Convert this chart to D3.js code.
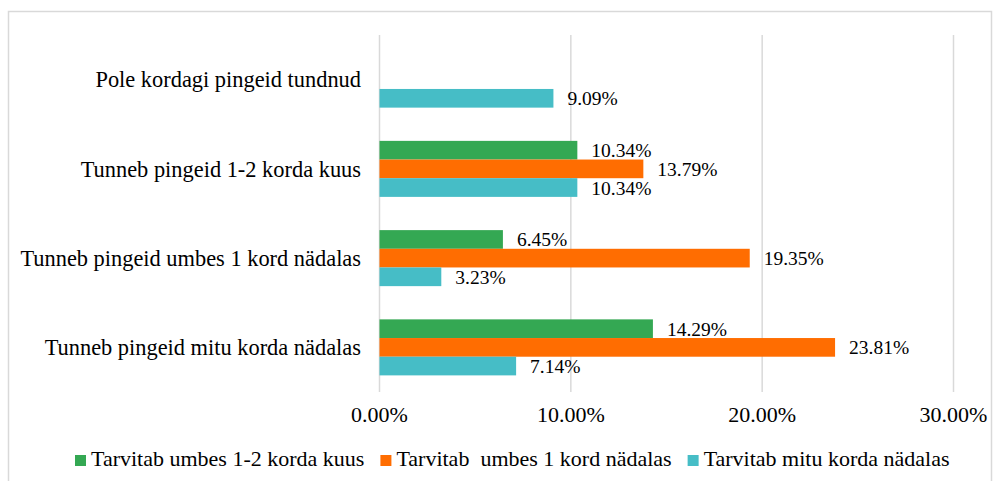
<!DOCTYPE html>
<html>
<head>
<meta charset="utf-8">
<script src="https://cdn.jsdelivr.net/npm/d3@7"></script>
<style>
  body { margin: 0; background: #fff; }
  text { font-family: "Liberation Serif", "Times New Roman", serif; fill: #000; }
</style>
</head>
<body>
<svg id="chart" width="1000" height="481"></svg>
<script>
// data
const categories = [
    "Pole kordagi pingeid tundnud",
    "Tunneb pingeid 1-2 korda kuus",
    "Tunneb pingeid umbes 1 kord nädalas",
    "Tunneb pingeid mitu korda nädalas"
];
const seriesNames = [
    "Tarvitab umbes 1-2 korda kuus",
    "Tarvitab  umbes 1 kord nädalas",
    "Tarvitab mitu korda nädalas"
];
const kuus = [null, 10.34, 6.45, 14.29];
const nadalas = [null, 13.79, 19.35, 23.81];
const mitu = [9.09, 10.34, 3.23, 7.14];
const ticks = [0, 10, 20, 30];
const colors = ["#34a853", "#ff6d01", "#46bdc6"];

const values = [kuus, nadalas, mitu];

let svg = d3.select("#chart");

// outer frame
svg.append("rect")
    .attr("x", 8.5).attr("y", 11.5)
    .attr("width", 983).attr("height", 480)
    .attr("fill", "none")
    .attr("stroke", "#d9d9d9")
    .attr("stroke-width", 1.5);

let x = d3.scaleLinear()
    .domain([0, 30])
    .range([379.5, 953.5]);

let y = d3.scaleBand()
    .domain(categories)
    .range([35, 392]);

let inner = d3.scaleBand()
    .domain(d3.range(seriesNames.length))
    .range([0, y.bandwidth()])
    .paddingOuter(0.89)
    .paddingInner(0);

// gridlines
svg.append("g")
    .selectAll("line")
    .data(ticks)
    .join("line")
    .attr("x1", d => x(d)).attr("x2", d => x(d))
    .attr("y1", 35).attr("y2", 392)
    .attr("stroke", "#d9d9d9")
    .attr("stroke-width", 1.5);

// tick labels
svg.append("g")
    .selectAll("text")
    .data(ticks)
    .join("text")
    .attr("x", d => x(d))
    .attr("y", 417)
    .attr("text-anchor", "middle")
    .attr("dominant-baseline", "middle")
    .style("font-size", "22px")
    .text(d => d.toFixed(2) + "%");

// category labels
svg.append("g")
    .selectAll("text")
    .data(categories)
    .join("text")
    .attr("x", 361)
    .attr("y", d => y(d) + y.bandwidth() / 2 + 2.5)
    .attr("text-anchor", "end")
    .attr("dominant-baseline", "middle")
    .style("font-size", "22.4px")
    .text(d => d);

// bars
let rows = [];
values.forEach((arr, s) => {
    arr.forEach((v, i) => {
        if (v !== null) rows.push({cat: categories[i], s: s, v: v});
    });
});

svg.append("g")
    .selectAll("rect")
    .data(rows)
    .join("rect")
    .attr("x", x(0))
    .attr("y", d => y(d.cat) + inner(d.s))
    .attr("width", d => x(d.v) - x(0))
    .attr("height", inner.bandwidth())
    .attr("fill", d => colors[d.s]);

// value labels
svg.append("g")
    .selectAll("text")
    .data(rows)
    .join("text")
    .attr("x", d => x(d.v) + 14)
    .attr("y", d => y(d.cat) + inner(d.s) + inner.bandwidth() / 2 + 2.5)
    .attr("dominant-baseline", "middle")
    .style("font-size", "19.5px")
    .text(d => d.v.toFixed(2) + "%");

// legend
let legend = svg.append("g");
let lx = 75;
seriesNames.forEach((name, i) => {
    legend.append("rect")
        .attr("x", lx).attr("y", 455)
        .attr("width", 11).attr("height", 11)
        .attr("fill", colors[i]);
    let t = legend.append("text")
        .attr("x", lx + 16)
        .attr("y", 461)
        .attr("dominant-baseline", "middle")
        .attr("xml:space", "preserve")
        .style("white-space", "pre")
        .style("font-size", "22px")
        .text(name);
    lx += 16 + t.node().getComputedTextLength() + 16;
});
</script>
</body>
</html>
